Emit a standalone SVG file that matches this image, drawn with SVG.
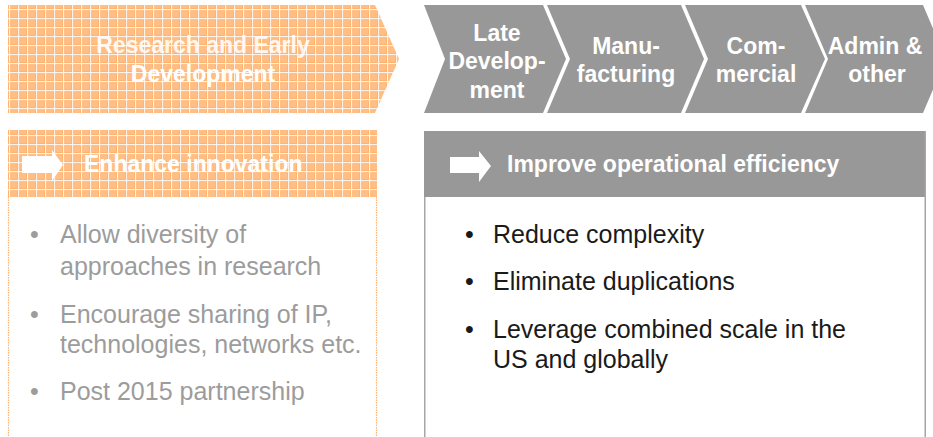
<svg xmlns="http://www.w3.org/2000/svg" width="933" height="437" viewBox="0 0 933 437">
<defs>
<pattern id="grid" width="9" height="9" patternUnits="userSpaceOnUse">
<rect width="9" height="9" fill="#FFB36F"/>
<rect x="2" y="2" width="6" height="6" fill="#FFBE85"/>
<rect x="0" y="0" width="9" height="1.2" fill="#FFF3E6"/>
<rect x="0" y="0" width="1.2" height="9" fill="#FFF3E6"/>
</pattern>
<style>
.or{fill:url(#grid);}
.gr{fill:#989898;}
.lbl{font-family:"Liberation Sans",Arial,sans-serif;font-weight:bold;font-size:23px;fill:#ffffff;text-anchor:middle;}
.hdr{font-family:"Liberation Sans",Arial,sans-serif;font-weight:bold;font-size:23px;fill:#ffffff;}
.bl{font-family:"Liberation Sans",Arial,sans-serif;font-size:25px;fill:#1a1a1a;}
.bo{font-family:"Liberation Sans",Arial,sans-serif;font-size:25px;fill:#9c9c9c;}
.arr{fill:#ffffff;}
</style>
</defs>
<g id="stage-research">
<polygon class="or" points="8,5 375,5 399,59 375,113 8,113"/>
<text class="lbl" x="203" y="53" fill-opacity="0.9">Research and Early</text>
<text class="lbl" x="203" y="82">Development</text>
</g>
<g id="stage-late">
<polygon class="gr" points="424,5 543,5 566,59 543,113 424,113 445,59"/>
<text class="lbl" x="497" y="41">Late</text>
<text class="lbl" x="497" y="69">Develop-</text>
<text class="lbl" x="497" y="98">ment</text>
</g>
<g id="stage-manu">
<polygon class="gr" points="547,5 681,5 704,59 681,113 547,113 570,59"/>
<text class="lbl" x="626" y="54">Manu-</text>
<text class="lbl" x="626" y="82">facturing</text>
</g>
<g id="stage-comm">
<polygon class="gr" points="685,5 801,5 825,59 801,113 685,113 708,59"/>
<text class="lbl" x="756" y="54">Com-</text>
<text class="lbl" x="756" y="82">mercial</text>
</g>
<g id="stage-admin">
<polygon class="gr" points="805,5 923,5 946,59 923,113 805,113 828,59"/>
<text class="lbl" x="875" y="54">Admin &amp;</text>
<text class="lbl" x="877" y="82">other</text>
</g>
<g id="box-innovation">
<rect class="or" x="8" y="130" width="369" height="67"/>
<line x1="8.5" y1="197" x2="8.5" y2="437" stroke="#FFB36F" stroke-width="1.2" stroke-dasharray="1.5 1"/>
<line x1="376.5" y1="197" x2="376.5" y2="437" stroke="#FFB36F" stroke-width="1.2" stroke-dasharray="1.5 1"/>
<polygon class="arr" points="22,156 52,156 52,150 63,165 52,181 52,173 22,173"/>
<text class="hdr" x="84" y="172">Enhance innovation</text>
<text class="bo" x="30" y="243" font-size="16">•</text>
<text class="bo" x="60" y="243">Allow diversity of</text>
<text class="bo" x="60" y="275">approaches in research</text>
<text class="bo" x="30" y="323" font-size="16">•</text>
<text class="bo" x="60" y="323">Encourage sharing of IP,</text>
<text class="bo" x="60" y="353">technologies, networks etc.</text>
<text class="bo" x="30" y="400" font-size="16">•</text>
<text class="bo" x="60" y="400">Post 2015 partnership</text>
</g>
<g id="box-efficiency">
<rect class="gr" x="424" y="131" width="502" height="66"/>
<line x1="424.75" y1="197" x2="424.75" y2="437" stroke="#a6a6a6" stroke-width="1.5"/>
<line x1="925.25" y1="131" x2="925.25" y2="437" stroke="#a6a6a6" stroke-width="1.5"/>
<polygon class="arr" points="450,157 479,157 479,151 491,166 479,182 479,173 450,173"/>
<text class="hdr" x="507" y="172">Improve operational efficiency</text>
<text class="bl" x="465" y="243">•</text>
<text class="bl" x="493" y="243">Reduce complexity</text>
<text class="bl" x="465" y="290">•</text>
<text class="bl" x="493" y="290">Eliminate duplications</text>
<text class="bl" x="465" y="338">•</text>
<text class="bl" x="493" y="338">Leverage combined scale in the</text>
<text class="bl" x="493" y="368">US and globally</text>
</g>
<g id="connectors"/>
</svg>
